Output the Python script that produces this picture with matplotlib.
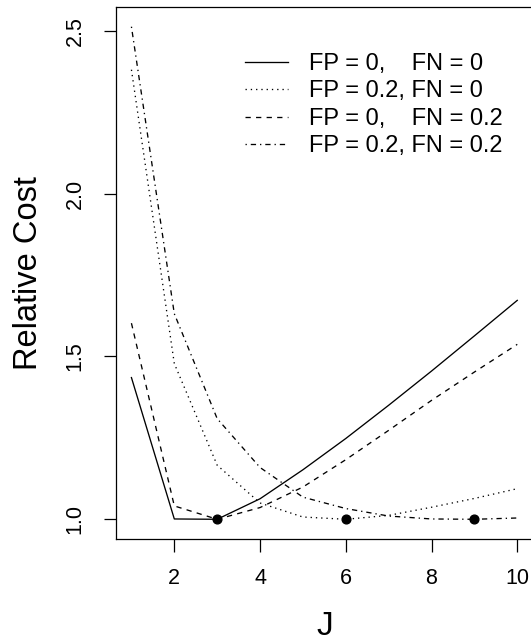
import matplotlib
matplotlib.use("Agg")
import matplotlib.pyplot as plt

plt.rcParams['font.family'] = ['Liberation Sans', 'DejaVu Sans']

J = [1, 2, 3, 4, 5, 6, 7, 8, 9, 10]
cost_fp0_fn0 = [1.435, 1.001, 1.000, 1.063, 1.152, 1.248, 1.350, 1.455, 1.563, 1.672]
cost_fp2_fn0 = [2.380, 1.478, 1.166, 1.050, 1.007, 1.000, 1.012, 1.037, 1.064, 1.094]
cost_fp0_fn2 = [1.602, 1.041, 1.000, 1.036, 1.099, 1.183, 1.273, 1.365, 1.452, 1.537]
cost_fp2_fn2 = [2.512, 1.631, 1.309, 1.159, 1.068, 1.033, 1.010, 1.001, 1.000, 1.004]
labels = ["FP = 0,    FN = 0", "FP = 0.2, FN = 0",
          "FP = 0,    FN = 0.2", "FP = 0.2, FN = 0.2"]
min_J = [3, 6, 9]
min_cost = [1.0, 1.0, 1.0]
xticks = [2, 4, 6, 8, 10]
yticks = [1.0, 1.5, 2.0, 2.5]

W, H = 531, 641
fig = plt.figure(figsize=(W / 100, H / 100), dpi=100)
ax = fig.add_axes([116 / W, (H - 539) / H, (532.7 - 116) / W, (539 - 7) / H])

lw = 0.95
styles = ['-', (0, (1, 3)), (0, (4, 4)), (0, (1, 3, 4, 3))]
series = [cost_fp0_fn0, cost_fp2_fn0, cost_fp0_fn2, cost_fp2_fn2]
for s, ls, lab in zip(series, styles, labels):
    ax.plot(J, s, color='black', lw=lw, linestyle=ls, label=lab)
ax.plot(min_J, min_cost, 'o', color='black', ms=6.3, zorder=5)

ax.set_xlim(0.64, 10.36)
ax.set_ylim(0.9395, 2.5725)
ax.set_xticks(xticks)
ax.set_xticklabels([str(v) for v in xticks])
ax.set_yticks(yticks)
ax.set_yticklabels([f"{v:.1f}" for v in yticks])
for sp in ax.spines.values():
    sp.set_linewidth(0.9)
ax.tick_params(axis='both', length=9, width=0.9, labelsize=15.5, direction='out')
ax.tick_params(axis='x', pad=12)
ax.tick_params(axis='y', pad=13)
for t in ax.get_yticklabels():
    t.set_rotation(90)
    t.set_va('center')
    t.set_ha('right')

ax.set_xlabel('J', fontsize=24, labelpad=16)
ax.set_ylabel('Relative Cost', fontsize=23.5, labelpad=15)

leg = ax.legend(loc='upper left', bbox_to_anchor=(245 / W, 1 - 53 / H),
                bbox_transform=fig.transFigure, frameon=False, fontsize=17,
                handlelength=1.82, handletextpad=0.88, labelspacing=0.23,
                borderpad=0, borderaxespad=0)

fig.savefig('out.png', dpi=100)
